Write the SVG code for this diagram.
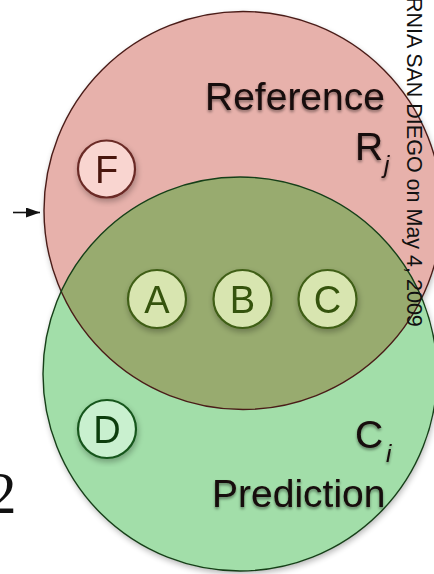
<svg xmlns="http://www.w3.org/2000/svg" width="434" height="574" viewBox="0 0 434 574">
  <style>
    .lbl { font-family: "Liberation Sans", Arial, sans-serif; font-size: 39px; fill: #140808; }
    .sub { font-family: "Liberation Sans", Arial, sans-serif; font-style: italic; font-size: 24px; fill: #140808; }
    .let { font-family: "Liberation Sans", Arial, sans-serif; font-size: 38px; text-anchor: middle; }
    .small-ref { fill: #f9d5d0; stroke: #6b2a26; stroke-width: 2.2; }
    .small-both { fill: #d8e5b0; stroke: #3f5e16; stroke-width: 2.2; }
    .small-pred { fill: #c9f0cf; stroke: #17561c; stroke-width: 2.2; }
    .wm { font-family: "Liberation Sans", Arial, sans-serif; font-size: 21.5px; fill: #111; }
  </style>
  <defs>
    <filter id="shadow" x="-10%" y="-10%" width="125%" height="125%">
      <feGaussianBlur in="SourceAlpha" stdDeviation="3"/>
      <feOffset dx="1" dy="3" result="b"/>
      <feComponentTransfer><feFuncA type="linear" slope="0.3"/></feComponentTransfer>
      <feMerge><feMergeNode/><feMergeNode in="SourceGraphic"/></feMerge>
    </filter>
    <filter id="glow" x="-10%" y="-20%" width="120%" height="150%">
      <feGaussianBlur in="SourceAlpha" stdDeviation="1.6"/>
      <feOffset dx="0" dy="1.5"/>
      <feComponentTransfer><feFuncA type="linear" slope="0.45"/></feComponentTransfer>
      <feMerge><feMergeNode/><feMergeNode in="SourceGraphic"/></feMerge>
    </filter>
    <clipPath id="refClip">
      <circle cx="243" cy="210.5" r="199"/>
    </clipPath>
    <marker id="arrow" viewBox="0 0 14 10" refX="14" refY="5" markerWidth="14" markerHeight="10" markerUnits="userSpaceOnUse" orient="auto">
      <path d="M0,0 L14,5 L0,10 Z" fill="#111"/>
    </marker>
  </defs>

  <g id="sets" filter="url(#shadow)">
    <g id="node-reference">
      <circle cx="243" cy="210.5" r="199" fill="#e7b1ab"/>
    </g>
    <g id="node-prediction">
      <circle cx="240" cy="374" r="197" fill="#a2dea9"/>
    </g>
  </g>
  <g id="node-overlap">
    <circle cx="240" cy="374" r="197" fill="#98ab6f" clip-path="url(#refClip)"/>
  </g>
  <g id="outlines" fill="none">
    <circle cx="243" cy="210.5" r="199" stroke="#4a1c18" stroke-width="1.4"/>
    <circle cx="240" cy="374" r="197" stroke="#163f18" stroke-width="1.4"/>
  </g>

  <g id="labels" filter="url(#glow)">
    <text class="lbl" x="205" y="110">Reference</text>
    <text class="lbl" x="355" y="160">R</text>
    <text class="sub" x="384" y="173">j</text>
    <text class="lbl" x="355" y="448">C</text>
    <text class="sub" x="386" y="462">i</text>
    <text class="lbl" x="212" y="507">Prediction</text>
  </g>

  <g id="node-F" filter="url(#shadow)">
    <circle class="small-ref" cx="106.5" cy="169" r="28.5"/>
    <text class="let" x="106.5" y="183" fill="#4a160f">F</text>
  </g>
  <g id="node-A" filter="url(#shadow)">
    <circle class="small-both" cx="157" cy="299" r="29"/>
    <text class="let" x="157" y="313" fill="#35530d">A</text>
  </g>
  <g id="node-B" filter="url(#shadow)">
    <circle class="small-both" cx="242.5" cy="299" r="29"/>
    <text class="let" x="242.5" y="313" fill="#35530d">B</text>
  </g>
  <g id="node-C" filter="url(#shadow)">
    <circle class="small-both" cx="327.5" cy="299" r="29"/>
    <text class="let" x="327.5" y="313" fill="#35530d">C</text>
  </g>
  <g id="node-D" filter="url(#shadow)">
    <circle class="small-pred" cx="107" cy="429" r="29"/>
    <text class="let" x="107" y="443" fill="#0d3d10">D</text>
  </g>

  <g id="connectors">
    <line x1="13" y1="212.5" x2="40" y2="212.5" stroke="#111" stroke-width="1.6" marker-end="url(#arrow)"/>
  </g>

  <text x="-13" y="513" font-family="'Liberation Serif', 'Times New Roman', serif" font-size="59" fill="#111">2</text>
  <text class="wm" transform="translate(407,-3) rotate(90)">RNIA SAN DIEGO on May 4, 2009</text>
</svg>
